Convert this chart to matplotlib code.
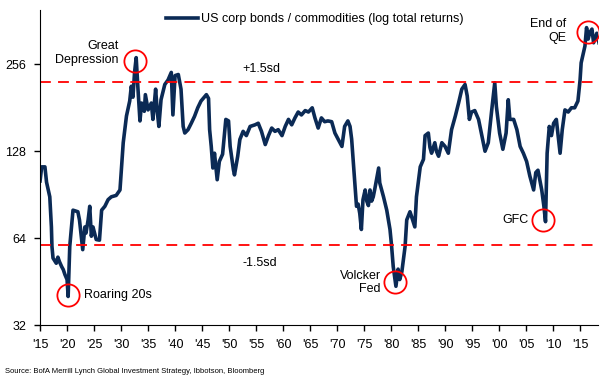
import numpy as np
import matplotlib
matplotlib.use("Agg")
import matplotlib.pyplot as plt

plt.rcParams['font.family'] = ['Liberation Sans', 'DejaVu Sans']

# ratio of US corp bond total return to commodity total return
years = [1915.0, 1915.3, 1915.9, 1916.2, 1916.8, 1917.1, 1917.2, 1917.4, 1918.0, 1918.3,
         1918.6, 1919.0, 1919.3, 1919.6, 1920.0, 1920.2, 1920.5, 1921.1, 1922.0, 1922.3,
         1922.9, 1923.3, 1923.5, 1923.9, 1924.2, 1924.5, 1924.8, 1925.4, 1926.0, 1926.4,
         1927.0, 1927.6, 1928.2, 1929.1, 1929.8, 1930.1, 1930.4, 1931.0, 1931.6, 1931.9,
         1932.2, 1932.5, 1932.8, 1933.1, 1933.5, 1933.8, 1934.3, 1934.5, 1935.0, 1935.6,
         1935.9, 1936.4, 1936.7, 1937.0, 1937.4, 1938.1, 1938.7, 1939.3, 1939.6, 1940.0,
         1940.6, 1941.1, 1941.5, 1941.8, 1942.4, 1943.0, 1943.6, 1944.2, 1944.8, 1945.8,
         1946.2, 1946.4, 1946.7, 1947.0, 1947.3, 1947.8, 1948.2, 1948.8, 1949.4, 1949.9,
         1950.2, 1950.8, 1951.0, 1951.6, 1952.0, 1952.6, 1953.2, 1953.9, 1954.8, 1955.4,
         1956.0, 1956.7, 1957.3, 1957.9, 1958.5, 1959.1, 1959.8, 1960.4, 1961.0, 1961.6,
         1962.2, 1962.8, 1963.4, 1964.1, 1964.7, 1965.4, 1965.9, 1966.5, 1967.1, 1967.7,
         1968.3, 1969.0, 1969.6, 1970.2, 1970.9, 1971.4, 1972.0, 1972.4, 1972.7, 1973.0,
         1973.3, 1973.6, 1973.9, 1974.2, 1974.5, 1974.8, 1975.2, 1975.5, 1975.8, 1976.1,
         1976.4, 1976.7, 1977.0, 1977.3, 1977.7, 1977.9, 1978.6, 1979.2, 1979.8, 1980.1,
         1980.4, 1980.9, 1981.3, 1981.6, 1982.0, 1982.6, 1982.9, 1983.5, 1983.8, 1984.4,
         1984.7, 1985.4, 1986.0, 1986.3, 1986.9, 1987.2, 1987.5, 1988.1, 1988.4, 1988.8,
         1989.4, 1990.0, 1990.6, 1991.2, 1991.9, 1992.5, 1993.1, 1993.7, 1994.1, 1994.5,
         1994.9, 1995.5, 1996.2, 1996.8, 1997.4, 1998.0, 1998.6, 1999.2, 1999.5, 2000.1,
         2000.7, 2001.3, 2001.7, 2002.0, 2002.7, 2003.3, 2003.9, 2004.5, 2005.1, 2005.7,
         2006.4, 2006.8, 2007.2, 2007.9, 2008.3, 2008.6, 2008.9, 2009.3, 2009.7, 2010.1,
         2010.6, 2011.3, 2011.7, 2012.2, 2012.8, 2013.4, 2014.0, 2014.6, 2015.0, 2015.2,
         2015.5, 2015.9, 2016.2, 2016.5, 2016.8, 2017.2, 2017.5, 2018.1, 2018.5]
ratio = [101, 113, 113, 100, 89, 70, 60, 54.6, 52.4, 55,
         53, 51, 49.8, 47.9, 46, 40.2, 60, 80, 79, 74,
         58.4, 70, 66.6, 74, 82.5, 65, 70, 63.3, 63, 80,
         82.5, 87, 89, 90, 94, 113, 137, 169.5, 191, 215,
         197, 240, 270, 215, 163, 188, 176, 201, 178, 188,
         165, 210, 176, 156, 193, 218, 226, 240, 171, 234,
         236, 210, 156, 148, 152, 160, 169, 181, 191, 201,
         195, 152, 133, 112, 126, 102, 118, 125, 165, 163,
         133, 110.6, 106, 123, 140.6, 150, 145, 156, 158, 160,
         150, 135, 145, 154, 150, 152, 145, 156, 165, 158,
         167, 175, 171, 177, 175, 181, 167, 154, 167, 162,
         163, 162, 148, 141, 133, 156, 163, 156, 141, 118,
         99.5, 82.5, 84, 78, 68.6, 87, 94, 86, 83, 94,
         86, 89, 95, 102, 112, 99.5, 89, 80, 68.6, 60,
         51, 43.6, 50, 46, 49, 60, 74, 79, 76, 70,
         89, 113, 120, 145, 148, 132, 126, 137, 128, 123,
         137, 133, 126, 152, 169.5, 188, 210, 218, 199, 165,
         175, 177, 165, 145, 128, 137, 175, 221, 183, 148,
         130, 148, 193, 165, 165, 152, 133, 126, 118, 105,
         94, 108, 110, 94, 82.5, 73, 126, 156, 145, 160,
         165, 126, 152, 178, 175, 181, 181, 191, 226, 259,
         274, 296, 343, 313, 330, 339, 304, 328, 304]

upper_sd = 222
lower_sd = 60.5

# (x, y) of the circled episodes
events = [
    ("Great Depression", 1932.6, 263),
    ("Roaring 20s", 1920.1, 40.7),
    ("Volcker Fed", 1980.7, 45),
    ("GFC", 2008.1, 74),
    ("End of QE", 2016.5, 330),
]

xticks = list(range(1915, 2016, 5))
xlabels = ["'%02d" % (y % 100) for y in xticks]
yticks = [32, 64, 128, 256]

navy = '#0b2a55'
red = '#ff0000'

fig = plt.figure(figsize=(6.07, 3.82), dpi=100)
ax = fig.add_axes([0.066, 0.149, 0.919, 0.825])

ax.plot(years, ratio, color=navy, lw=2.6, solid_joinstyle='round',
        label='US corp bonds / commodities (log total returns)')
ax.axhline(upper_sd, color=red, lw=1.3, ls=(0, (6, 4)))
ax.axhline(lower_sd, color=red, lw=1.3, ls=(0, (6, 4)))

ax.set_yscale('log', base=2)
ax.set_ylim(32, 395)
ax.set_xlim(1915, 2018.3)
ax.set_yticks(yticks)
ax.set_yticklabels([str(v) for v in yticks])
ax.minorticks_off()
ax.set_xticks(xticks)
ax.set_xticklabels(xlabels)
ax.tick_params(labelsize=9, length=4, direction='out', width=1, pad=6)
for s in ['top', 'right']:
    ax.spines[s].set_visible(False)

# circles round the key episodes
for name, x, y in events:
    ax.plot(x, y, 'o', ms=16, mfc='none', mec=red, mew=1.3)

ax.text(1929.6, 280, "Great\nDepression", ha='right', va='center', fontsize=9, linespacing=1.15)
ax.text(1923.1, 40.7, "Roaring 20s", ha='left', va='center', fontsize=9)
ax.text(1978.1, 45, "Volcker\nFed", ha='right', va='center', fontsize=9, linespacing=1.15)
ax.text(2005.4, 74, "GFC", ha='right', va='center', fontsize=9)
ax.text(2012.4, 334, "End of\nQE", ha='right', va='center', fontsize=9, linespacing=1.15)
ax.text(1955.9, 236, "+1.5sd", ha='center', va='bottom', fontsize=9)
ax.text(1955.7, 55, "-1.5sd", ha='center', va='top', fontsize=9)

ax.legend(loc='upper left', bbox_to_anchor=(0.205, 1.025), frameon=False,
          fontsize=9, handlelength=2.6, handletextpad=0.2)

fig.text(0.008, 0.018, "Source: BofA Merrill Lynch Global Investment Strategy, Ibbotson, Bloomberg",
         fontsize=5.5, ha='left', va='bottom')

fig.savefig('out.png', dpi=100)
